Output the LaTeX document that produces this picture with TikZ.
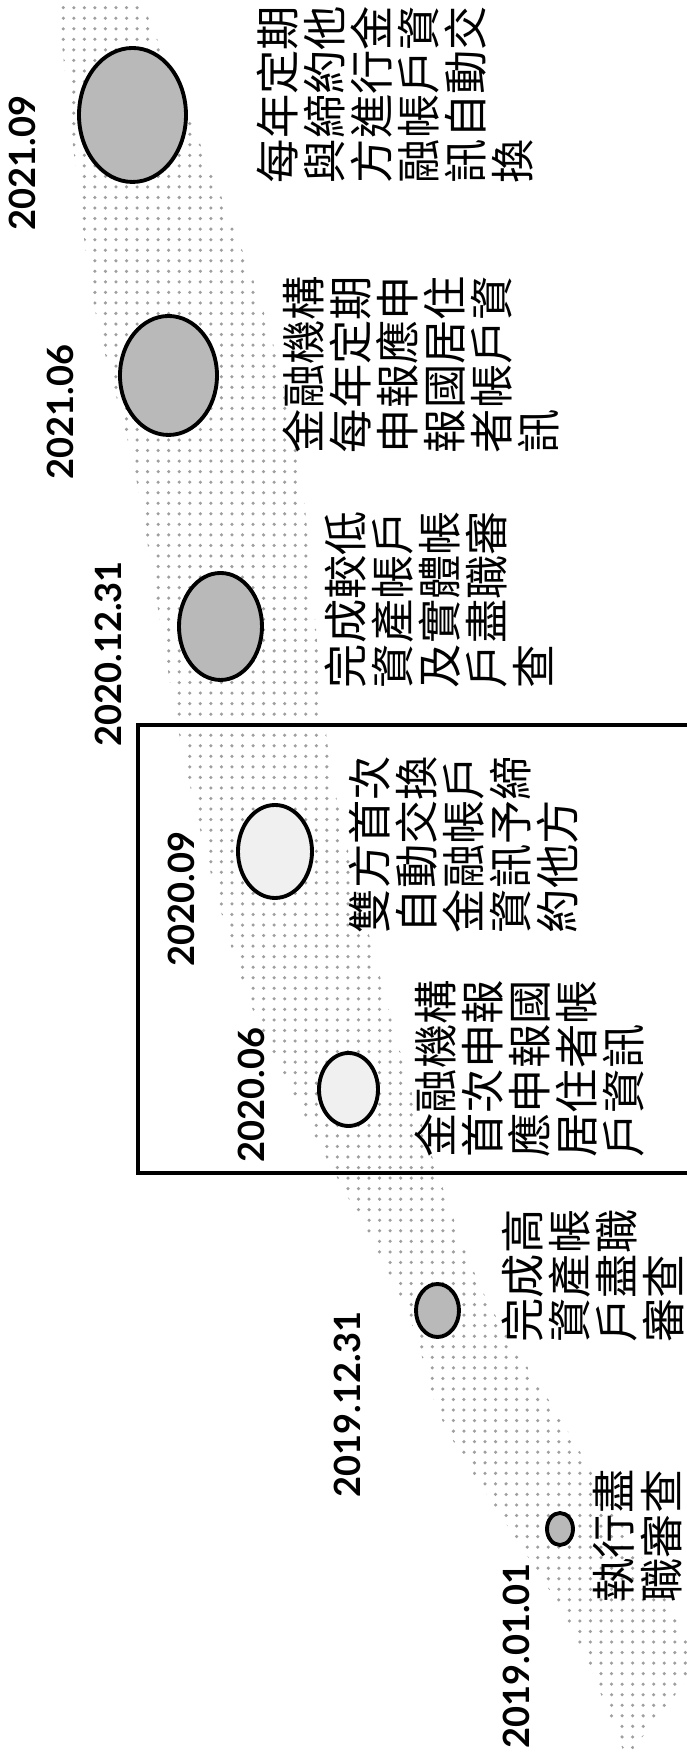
\documentclass[tikz,border=0pt]{standalone}
\usepackage{fontspec}
\newfontfamily\cjk{Noto Sans CJK TC}
\newfontfamily\datefont{Lato}
\usetikzlibrary{shapes.geometric,patterns}
\tikzset{
	datelabel/.style={font=\datefont\bfseries\fontsize{10.3}{12}\selectfont,inner sep=0pt},
	ball/.style={draw,line width=1.1pt,ellipse,inner sep=0pt},
	doneball/.style={ball,fill=gray!55},
	firstball/.style={ball,fill=gray!12},
	notetext/.style={font=\cjk\fontsize{12.6}{13.4}\selectfont,align=left,anchor=north west,inner sep=0pt}
}
\begin{document}
\begin{tikzpicture}[rotate=90,transform shape]
			\useasboundingbox (0,0) rectangle (17.58,6.86);

			\fill[pattern=dots,pattern color=gray!75]
				plot[smooth] coordinates {(0,0.6) (1.4,1.2) (3.3,2.4) (4.6,2.85) (7.4,4.3) (9.9,5.0) (12.8,5.5) (14.7,5.95) (17.7,6.3)}
				-- plot[smooth] coordinates {(17.7,5.5) (14.7,4.3) (12.8,3.85) (9.9,3.55) (7.4,2.95) (5.9,2.5) (4.6,2.0) (3.3,1.2) (1.4,0.1) (0.9,-0.1)}
				-- cycle;

			\draw[line width=0.9pt] (5.85,-0.3) -- (5.85,5.48) -- (10.33,5.48) -- (10.33,-0.3);

			\node[doneball,minimum width=0.32cm,minimum height=0.26cm] (e1) at (2.29,1.26) {};
			\node[doneball,minimum width=0.53cm,minimum height=0.43cm] (e2) at (4.475,2.485) {};
			\node[firstball,minimum width=0.73cm,minimum height=0.59cm] (e3) at (6.685,3.375) {};
			\node[firstball,minimum width=0.93cm,minimum height=0.74cm] (e4) at (9.065,4.11) {};
			\node[doneball,minimum width=1.07cm,minimum height=0.83cm] (e5) at (11.315,4.655) {};
			\node[doneball,minimum width=1.19cm,minimum height=0.97cm] (e6) at (13.825,5.175) {};
			\node[doneball,minimum width=1.34cm,minimum height=1.07cm] (e7) at (16.43,5.535) {};

			\node[datelabel] (d1) at (1.02,1.70) {2019.01.01};
			\node[datelabel] (d2) at (3.535,3.385) {2019.12.31};
			\node[datelabel] (d3) at (6.63,4.345) {2020.06};
			\node[datelabel] (d4) at (8.59,5.045) {2020.09};
			\node[datelabel] (d5) at (11.04,5.78) {2020.12.31};
			\node[datelabel] (d6) at (13.46,6.26) {2021.06};
			\node[datelabel] (d7) at (15.95,6.64) {2021.09};

			\node[notetext] (t1) at (1.55,0.93) {執行盡\\職審查};
			\node[notetext] (t2) at (4.15,1.85) {完成高\\資產帳\\戶盡職\\審查};
			\node[notetext] (t3) at (6.00,2.72) {金融機構\\首次申報\\應申報國\\居住者帳\\戶資訊};
			\node[notetext] (t4) at (8.24,3.38) {雙方首次\\自動交換\\金融帳戶\\資訊予締\\約他方};
			\node[notetext] (t5) at (10.69,3.62) {完成較低\\資產帳戶\\及實體帳\\戶盡職審\\查};
			\node[notetext] (t6) at (13.04,4.04) {金融機構\\每年定期\\申報應申\\報國居住\\者帳戶資\\訊};
			\node[notetext] (t7) at (15.74,4.30) {每年定期\\與締約他\\方進行金\\融帳戶資\\訊自動交\\換};
		\end{tikzpicture}
\end{document}
